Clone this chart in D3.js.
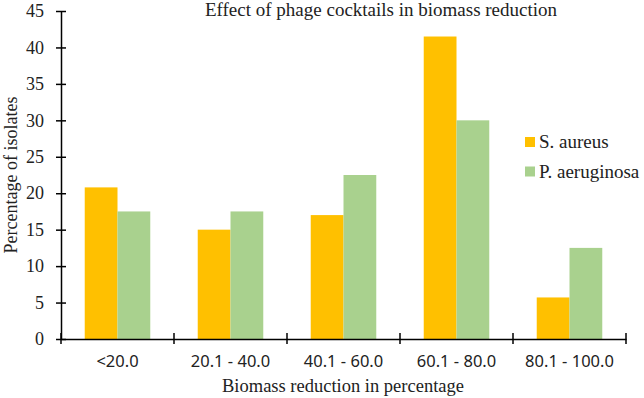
<!DOCTYPE html>
<html>
<head>
<meta charset="utf-8">
<script src="https://cdn.jsdelivr.net/npm/d3@7"></script>
<style>
  body { margin: 0; background: #fff; }
  svg { display: block; }
</style>
</head>
<body>
<svg width="644" height="398"></svg>
<script>
let categories = ["<20.0", "20.1 - 40.0", "40.1 - 60.0", "60.1 - 80.0", "80.1 - 100.0"]
let seriesNames = ["S. aureus", "P. aeruginosa"]
let sAureus = [20.8, 15.0, 17.0, 41.5, 5.7]
let pAeruginosa = [17.5, 17.5, 22.5, 30.0, 12.5]
let yTicks = [0, 5, 10, 15, 20, 25, 30, 35, 40, 45]
let colors = ["#FFC000", "#A9D18E"]

let serifFont = "Liberation Serif"

let plot = { left: 61, right: 626, top: 11, bottom: 339 }

let svg = d3.select("svg")

let x = d3.scaleBand()
    .domain(categories)
    .range([plot.left, plot.right])
    .paddingInner(0.42)
    .paddingOuter(0.21)

let x1 = d3.scaleBand()
    .domain(seriesNames)
    .range([0, x.bandwidth()])

let y = d3.scaleLinear()
    .domain([0, 45])
    .range([plot.bottom, plot.top])

let rows = categories.map(function (c, i) {
    return { cat: c, values: [sAureus[i], pAeruginosa[i]] }
})

// bars
let groups = svg.append("g").selectAll("g")
    .data(rows)
    .join("g")
    .attr("transform", function (d) { return "translate(" + x(d.cat) + ",0)" })

groups.selectAll("rect")
    .data(function (d) { return d.values.map(function (v, j) { return { name: seriesNames[j], v: v, j: j } }) })
    .join("rect")
    .attr("x", function (d) { return x1(d.name) })
    .attr("width", x1.bandwidth())
    .attr("y", function (d) { return y(d.v) })
    .attr("height", function (d) { return y(0) - y(d.v) })
    .attr("fill", function (d) { return colors[d.j] })

// y axis
let yAxis = d3.axisLeft(y)
    .tickValues(yTicks)
    .tickSizeInner(5)
    .tickSizeOuter(0)
    .tickPadding(12)

let gy = svg.append("g")
    .attr("transform", "translate(" + plot.left + ",0)")
    .call(yAxis)
    .attr("font-family", serifFont)
    .attr("font-size", 18)
gy.select(".domain").attr("stroke", "#000").attr("stroke-width", 1.5)
gy.selectAll(".tick line").attr("x1", -5).attr("x2", 5).attr("stroke-width", 1.5)
gy.selectAll(".tick text").attr("fill", "#222")

// x axis
let xAxis = d3.axisBottom(x)
    .tickSize(0)
    .tickPadding(16)

let gx = svg.append("g")
    .attr("transform", "translate(0," + plot.bottom + ")")
    .call(xAxis)
    .attr("font-family", "Noto Sans")
    .attr("font-size", 16.5)
gx.select(".domain").attr("stroke", "#000").attr("stroke-width", 1.5)
gx.selectAll(".tick text").attr("fill", "#222")

// category boundary ticks
let boundaries = categories.map(function (c) { return x(c) - x.step() * x.paddingInner() / 2 })
boundaries.push(plot.right)
gx.selectAll(".bound")
    .data(boundaries)
    .join("line")
    .attr("class", "bound")
    .attr("x1", function (d) { return d })
    .attr("x2", function (d) { return d })
    .attr("y1", -6)
    .attr("y2", 5)
    .attr("stroke", "#000")
    .attr("stroke-width", 1.5)

// title
svg.append("text")
    .attr("x", 381)
    .attr("y", 16)
    .attr("text-anchor", "middle")
    .attr("font-family", serifFont)
    .attr("font-size", 19)
    .attr("fill", "#222")
    .text("Effect of phage cocktails in biomass reduction")

// axis titles
svg.append("text")
    .attr("x", 343)
    .attr("y", 392)
    .attr("text-anchor", "middle")
    .attr("font-family", serifFont)
    .attr("font-size", 18.5)
    .attr("fill", "#222")
    .text("Biomass reduction in percentage")

svg.append("text")
    .attr("transform", "translate(17,175) rotate(-90)")
    .attr("text-anchor", "middle")
    .attr("font-family", serifFont)
    .attr("font-size", 18)
    .attr("fill", "#222")
    .text("Percentage of isolates")

// legend
let legend = svg.append("g").selectAll("g")
    .data(seriesNames)
    .join("g")
    .attr("transform", function (d, i) { return "translate(525," + (137 + i * 29.5) + ")" })

legend.append("rect")
    .attr("width", 10)
    .attr("height", 10)
    .attr("fill", function (d, i) { return colors[i] })

legend.append("text")
    .attr("x", 14)
    .attr("y", 11)
    .attr("font-family", serifFont)
    .attr("font-size", 19)
    .attr("fill", "#222")
    .text(function (d) { return d })
</script>
</body>
</html>
